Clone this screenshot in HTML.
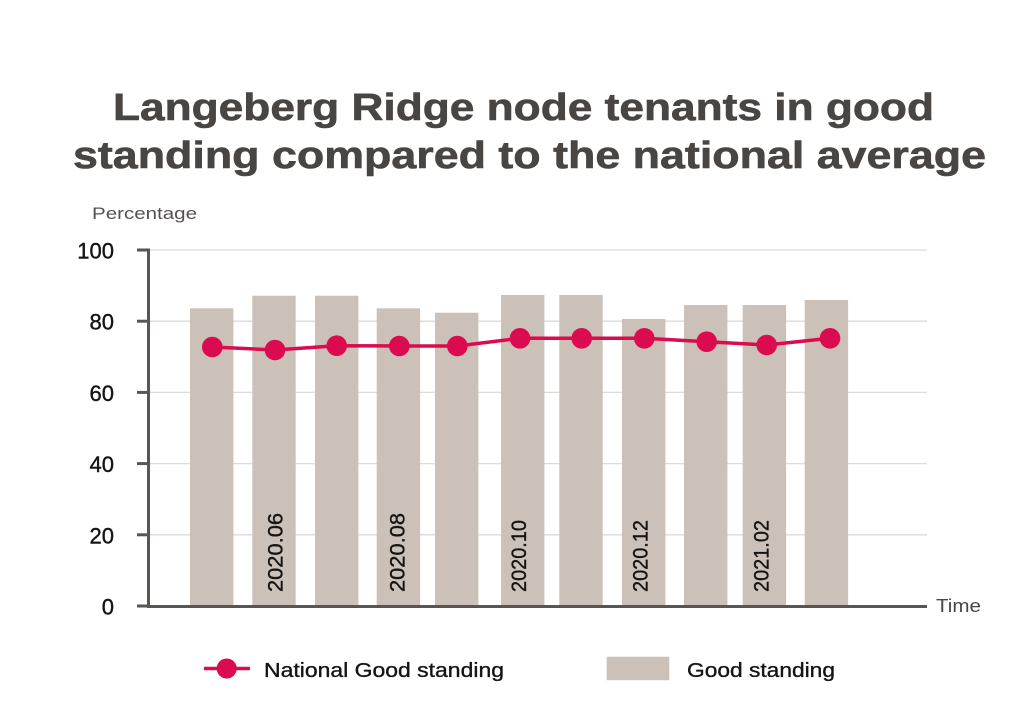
<!DOCTYPE html>
<html>
<head>
<meta charset="utf-8">
<style>
  html, body { margin: 0; padding: 0; background: #ffffff; }
  svg { display: block; }
  text { font-family: "Liberation Sans", "DejaVu Sans", sans-serif; }
</style>
</head>
<body>
<svg width="1024" height="713" viewBox="0 0 1024 713" xmlns="http://www.w3.org/2000/svg">
  <rect x="0" y="0" width="1024" height="713" fill="#ffffff"/>

  <!-- Title -->
  <text x="113" y="120" font-size="38" font-weight="bold" fill="#494543" stroke="#494543" stroke-width="0.6" textLength="821" lengthAdjust="spacingAndGlyphs">Langeberg Ridge node tenants in good</text>
  <text x="73" y="168" font-size="38" font-weight="bold" fill="#494543" stroke="#494543" stroke-width="0.6" textLength="913" lengthAdjust="spacingAndGlyphs">standing compared to the national average</text>

  <!-- Y axis title -->
  <text x="92" y="219" font-size="17" fill="#555150" textLength="105" lengthAdjust="spacingAndGlyphs">Percentage</text>

  <!-- Gridlines -->
  <g stroke="#dedbd9" stroke-width="1.3">
    <line x1="148" y1="250" x2="927" y2="250"/>
    <line x1="148" y1="321.2" x2="927" y2="321.2"/>
    <line x1="148" y1="392.4" x2="927" y2="392.4"/>
    <line x1="148" y1="463.6" x2="927" y2="463.6"/>
    <line x1="148" y1="534.8" x2="927" y2="534.8"/>
  </g>

  <!-- Bars -->
  <g fill="#cbc1b9">
    <rect x="190" y="308.3" width="43.4" height="297.7"/>
    <rect x="252.3" y="295.7" width="43.4" height="310.3"/>
    <rect x="315" y="295.7" width="43.4" height="310.3"/>
    <rect x="376.7" y="308.3" width="43.4" height="297.7"/>
    <rect x="435" y="312.7" width="43.4" height="293.3"/>
    <rect x="501" y="295" width="43.4" height="311"/>
    <rect x="559.3" y="295" width="43.4" height="311"/>
    <rect x="622" y="319" width="43.4" height="287"/>
    <rect x="684" y="305" width="43.4" height="301"/>
    <rect x="742.7" y="305" width="43.4" height="301"/>
    <rect x="804.7" y="300" width="43.4" height="306"/>
  </g>

  <!-- Rotated x labels -->
  <g font-size="21.5" fill="#141414" stroke="#141414" stroke-width="0.35">
    <text transform="translate(282.7,592) rotate(-90)" textLength="79" lengthAdjust="spacingAndGlyphs">2020.06</text>
    <text transform="translate(404.3,592) rotate(-90)" textLength="79" lengthAdjust="spacingAndGlyphs">2020.08</text>
    <text transform="translate(526,592) rotate(-90)" textLength="72" lengthAdjust="spacingAndGlyphs">2020.10</text>
    <text transform="translate(647.7,592) rotate(-90)" textLength="72" lengthAdjust="spacingAndGlyphs">2020.12</text>
    <text transform="translate(768.3,592) rotate(-90)" textLength="72" lengthAdjust="spacingAndGlyphs">2021.02</text>
  </g>

  <!-- Axes -->
  <g stroke="#5a5552" stroke-width="3">
    <line x1="148.5" y1="248.5" x2="148.5" y2="607.5"/>
    <line x1="147" y1="606.5" x2="927" y2="606.5"/>
    <line x1="137" y1="250" x2="148" y2="250"/>
    <line x1="137" y1="321.2" x2="148" y2="321.2"/>
    <line x1="137" y1="392.4" x2="148" y2="392.4"/>
    <line x1="137" y1="463.6" x2="148" y2="463.6"/>
    <line x1="137" y1="534.8" x2="148" y2="534.8"/>
    <line x1="137" y1="606" x2="148" y2="606"/>
  </g>

  <!-- Y tick labels -->
  <g font-size="22" fill="#141414" stroke="#141414" stroke-width="0.4" text-anchor="end">
    <text x="114" y="258.5">100</text>
    <text x="114" y="329.7">80</text>
    <text x="114" y="400.9">60</text>
    <text x="114" y="472.1">40</text>
    <text x="114" y="543.3">20</text>
    <text x="114" y="614.5">0</text>
  </g>

  <!-- X axis title -->
  <text x="936" y="612" font-size="18" fill="#494543" textLength="45" lengthAdjust="spacingAndGlyphs">Time</text>

  <!-- Line series -->
  <polyline fill="none" stroke="#dc0a4f" stroke-width="3.5" stroke-linejoin="round"
    points="212.3,347 275,350 336.7,345.7 399.3,346 457.3,346 520,338.3 581.7,338.3 644.3,338.3 706.7,341.7 766.7,345 830,338.3"/>
  <g fill="#dc0a4f">
    <circle cx="212.3" cy="347" r="10.3"/>
    <circle cx="275" cy="350" r="10.3"/>
    <circle cx="336.7" cy="345.7" r="10.3"/>
    <circle cx="399.3" cy="346" r="10.3"/>
    <circle cx="457.3" cy="346" r="10.3"/>
    <circle cx="520" cy="338.3" r="10.3"/>
    <circle cx="581.7" cy="338.3" r="10.3"/>
    <circle cx="644.3" cy="338.3" r="10.3"/>
    <circle cx="706.7" cy="341.7" r="10.3"/>
    <circle cx="766.7" cy="345" r="10.3"/>
    <circle cx="830" cy="338.3" r="10.3"/>
  </g>

  <!-- Legend -->
  <line x1="204" y1="668.5" x2="250" y2="668.5" stroke="#dc0a4f" stroke-width="3.5"/>
  <circle cx="226.7" cy="668.5" r="10" fill="#dc0a4f"/>
  <text x="264" y="677" font-size="20" fill="#141414" stroke="#141414" stroke-width="0.35" textLength="240" lengthAdjust="spacingAndGlyphs">National Good standing</text>

  <rect x="606.7" y="656.7" width="62.6" height="23.5" fill="#cbc1b9"/>
  <text x="687" y="677" font-size="20" fill="#141414" stroke="#141414" stroke-width="0.35" textLength="148" lengthAdjust="spacingAndGlyphs">Good standing</text>
</svg>
</body>
</html>
